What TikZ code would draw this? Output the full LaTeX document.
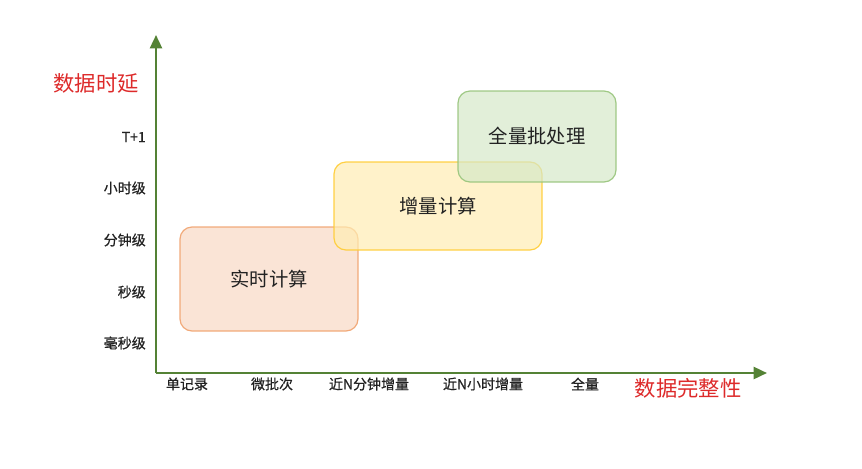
\documentclass[tikz,border=0pt]{standalone}
\usepackage{fontspec}
\setmainfont{Noto Sans CJK SC}
\newfontfamily\labelfont[RawFeature={embolden=0.6}]{Noto Sans CJK SC}
\usetikzlibrary{arrows.meta}
\definecolor{axisgreen}{HTML}{548235}
\definecolor{titlered}{HTML}{DD2A2A}
\definecolor{labelgray}{HTML}{222222}
\definecolor{orfill}{HTML}{F8D9C5}
\definecolor{ordraw}{HTML}{F0A26E}
\definecolor{yefill}{HTML}{FFEDB3}
\definecolor{yedraw}{HTML}{FFCC33}
\definecolor{grfill}{HTML}{D5E8C9}
\definecolor{grdraw}{HTML}{97C47A}
\tikzset{
  axisline/.style={draw=axisgreen, line width=1.8pt, -{Triangle[length=10pt,width=9pt]}},
  ticklabel/.style={font=\labelfont\fontsize{10.5}{12}\selectfont, text=labelgray, inner sep=0pt},
  axistitle/.style={font=\fontsize{16}{18}\selectfont, text=titlered, inner sep=0pt},
  zonebox/.style={rounded corners=9pt, line width=0.9pt, fill opacity=0.7, draw opacity=0.9},
  zonetext/.style={font=\fontsize{14.5}{17}\selectfont, text=labelgray},
}
\begin{document}
\begin{tikzpicture}[x=0.75pt, y=-0.75pt]
\useasboundingbox (0,0) rectangle (862,468);
\coordinate (origin) at (156,373);
\coordinate (ytip) at (156,35);
\coordinate (xtip) at (767,373);
\draw[axisline] (origin) -- (ytip);
\draw[axisline] (origin) -- (xtip);
% y labels
\node[ticklabel, anchor=east] (y1) at (146,137) {T+1};
\node[ticklabel, anchor=east] (y2) at (146,188) {小时级};
\node[ticklabel, anchor=east] (y3) at (146,240) {分钟级};
\node[ticklabel, anchor=east] (y4) at (146,292) {秒级};
\node[ticklabel, anchor=east] (y5) at (146,343) {毫秒级};
% x labels
\node[ticklabel] (x1) at (187,384) {单记录};
\node[ticklabel] (x2) at (272,384) {微批次};
\node[ticklabel] (x3) at (369,384) {近N分钟增量};
\node[ticklabel] (x4) at (483,384) {近N小时增量};
\node[ticklabel] (x5) at (585,384) {全量};
% titles
\node[axistitle] (ytitle) at (96,83) {数据时延};
\node[axistitle] (xtitle) at (688,388) {数据完整性};
% zones
\draw[zonebox, fill=orfill, draw=ordraw] (180,227) rectangle (358,331);
\node[zonetext] (rt) at (269,279) {实时计算};
\draw[zonebox, fill=yefill, draw=yedraw] (334,162) rectangle (542,250);
\node[zonetext] (inc) at (438,206) {增量计算};
\draw[zonebox, fill=grfill, draw=grdraw] (458,91) rectangle (616,182);
\node[zonetext] (full) at (537,136) {全量批处理};
\end{tikzpicture}
\end{document}
